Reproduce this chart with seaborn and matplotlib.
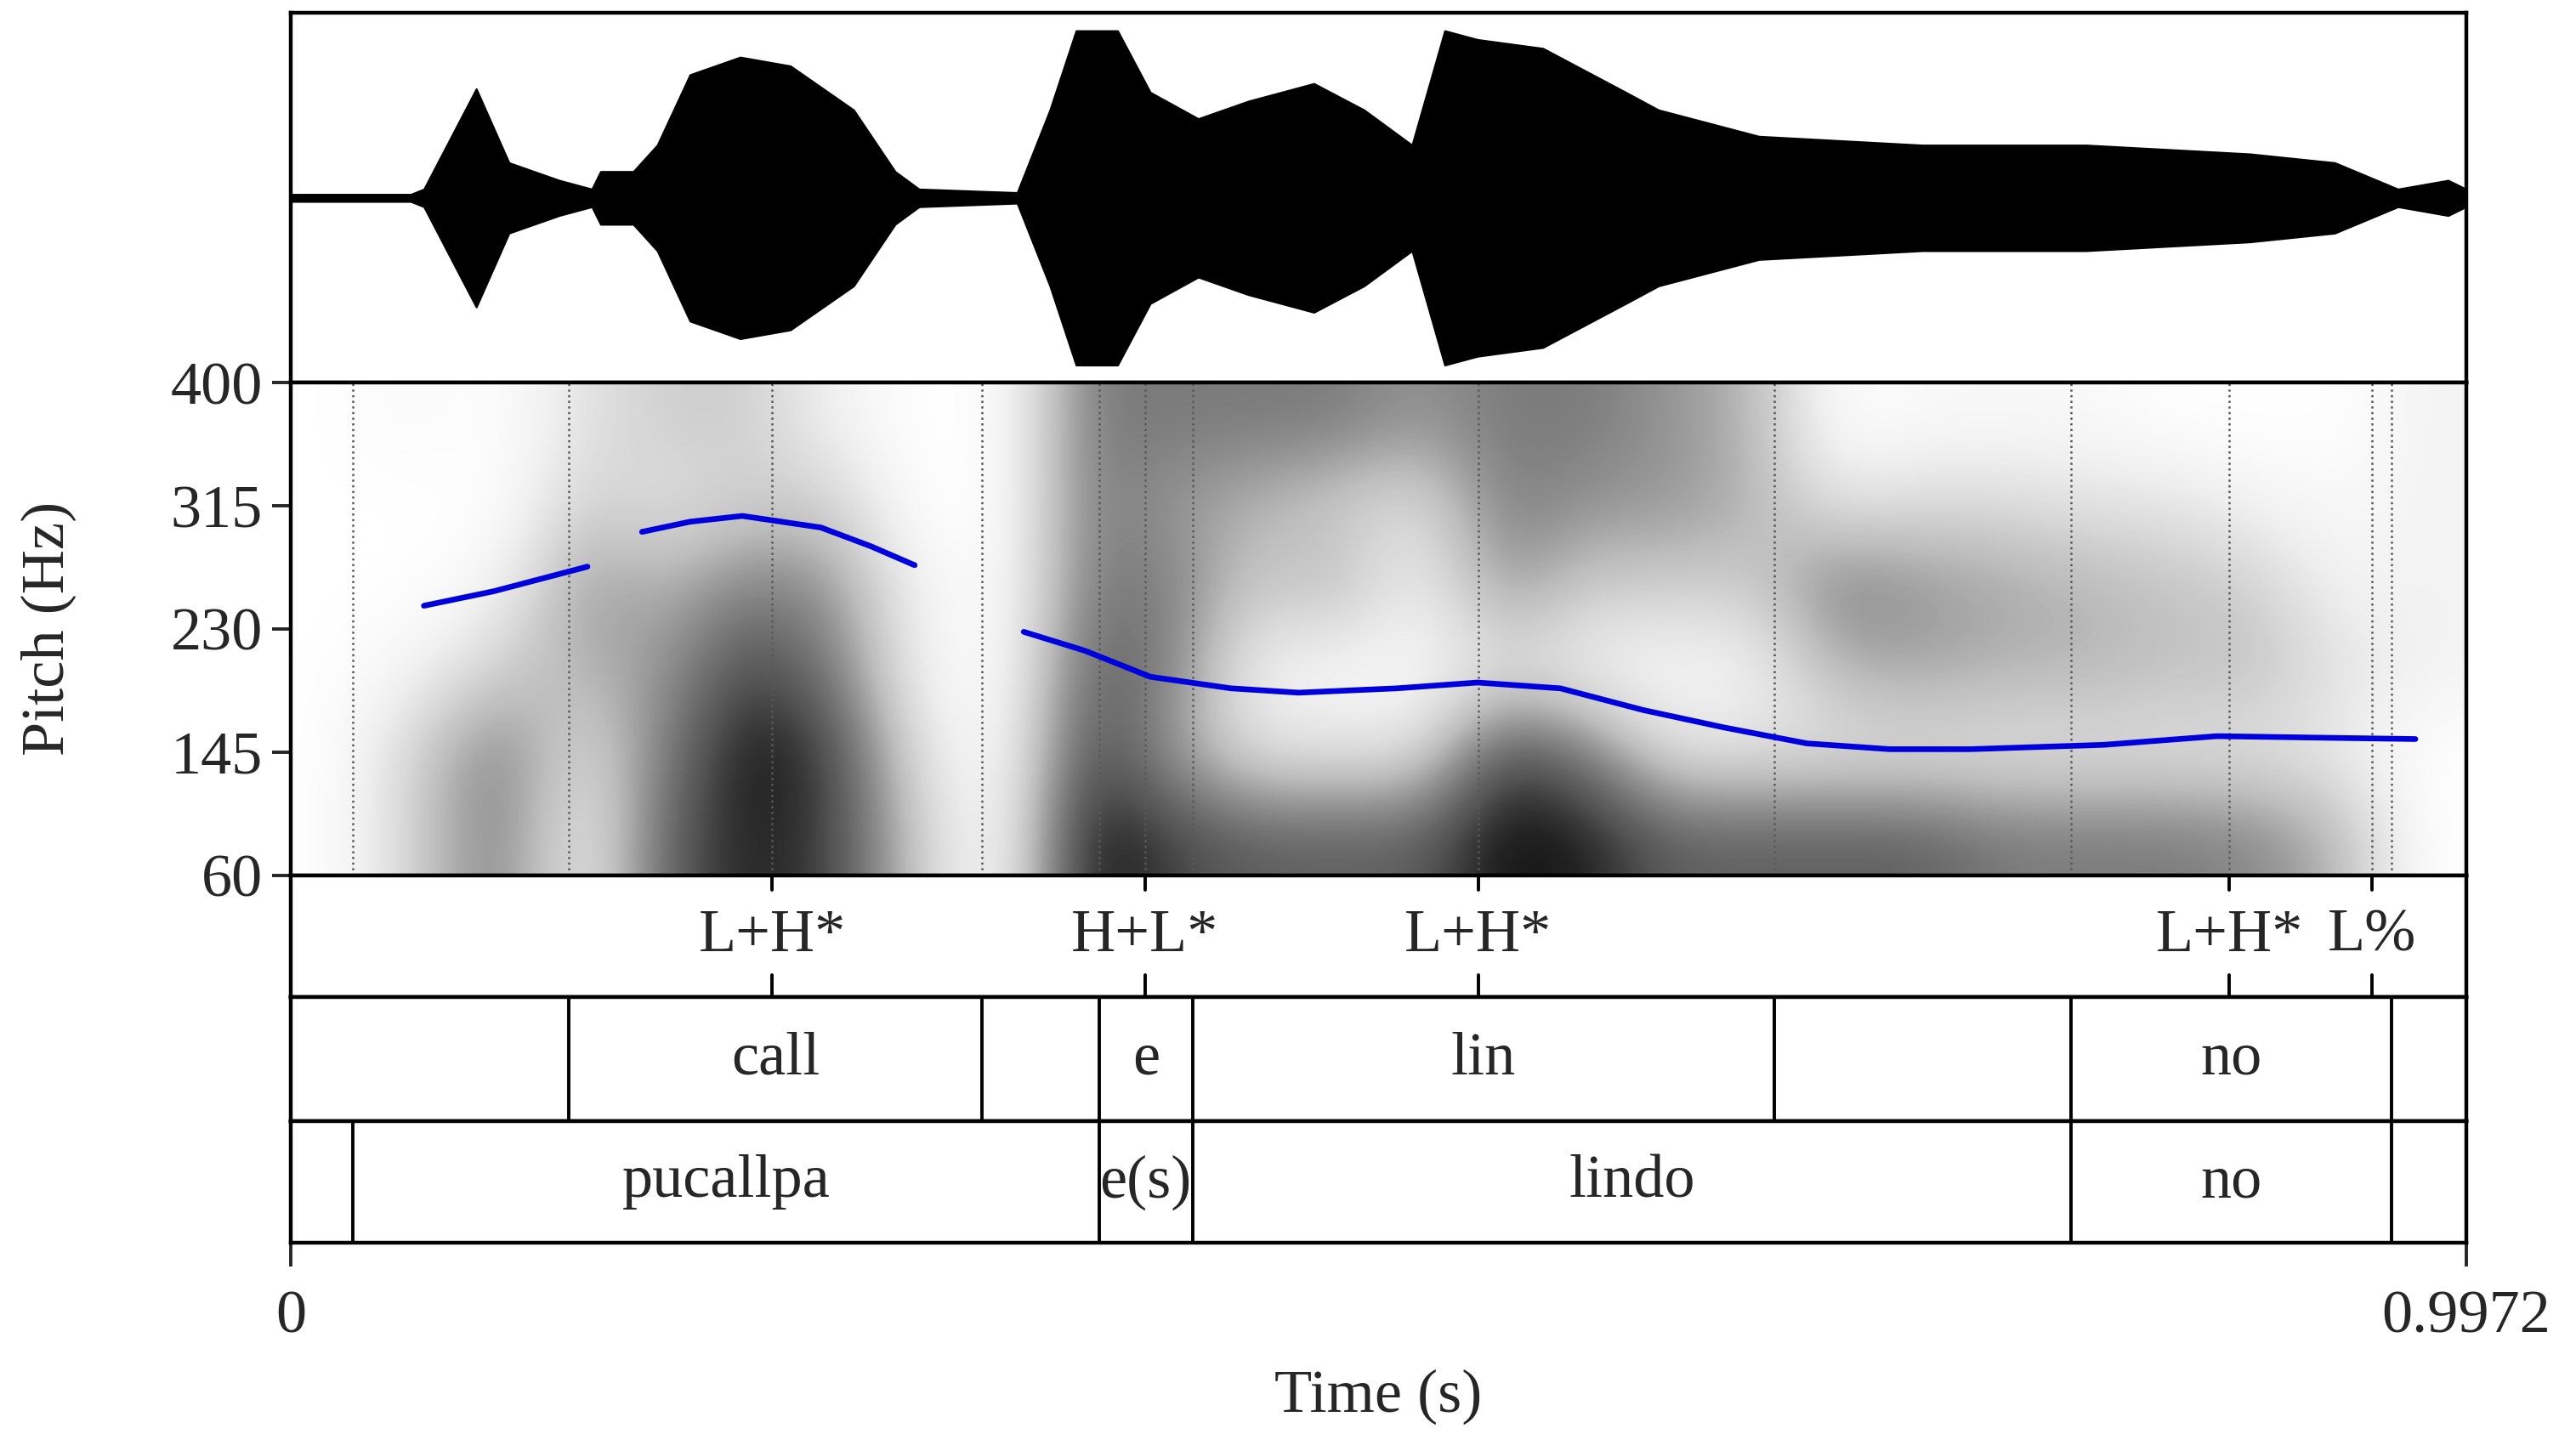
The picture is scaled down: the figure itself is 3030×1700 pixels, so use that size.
import numpy as np
import matplotlib
matplotlib.use("Agg")
import matplotlib.pyplot as plt
import seaborn as sns
import pandas as pd

sns.set_style("white")
plt.rcParams['font.family'] = ['Liberation Serif', 'DejaVu Serif']

T_END = 0.9972
# waveform envelope (time s, relative amplitude)
wave_t = [0.0, 0.055, 0.061, 0.085, 0.10, 0.123, 0.138, 0.142, 0.157, 0.168, 0.183, 0.206, 0.229, 0.258, 0.277, 0.288,
          0.333, 0.348, 0.360, 0.379, 0.394, 0.416, 0.439, 0.469, 0.492, 0.514, 0.529, 0.544, 0.574, 0.612, 0.627,
          0.673, 0.748, 0.823, 0.898, 0.937, 0.966, 0.989, T_END]
wave_a = [0.02, 0.02, 0.05, 0.62, 0.2, 0.1, 0.05, 0.15, 0.15, 0.3, 0.7, 0.8, 0.75, 0.5, 0.15, 0.05,
          0.03, 0.5, 0.95, 0.95, 0.6, 0.45, 0.55, 0.65, 0.5, 0.3, 0.95, 0.9, 0.85, 0.6, 0.5,
          0.35, 0.3, 0.3, 0.25, 0.2, 0.05, 0.1, 0.05]

# spectrogram darkness (rows bottom->top, 26 time columns)
spec = np.array([
    [0, .3, .6, .1, .7, .9, .8, .3, 0, .95, .8, .7, .7, .7, .95, .9, .7, .7, .7, .7, .6, .6, .6, .55, .4, 0],
    [0, .3, .6, .2, .6, .95, .8, .2, 0, .8, .5, .2, .2, .2, .8, .6, .2, .2, .2, .2, .2, .2, .2, .2, .15, 0],
    [0, .1, .3, .4, .5, .8, .6, .1, 0, .7, .6, .1, .05, .05, .2, .1, .05, .1, .4, .45, .4, .4, .35, .35, .2, .1],
    [0, 0, .1, .5, .4, .6, .5, .1, 0, .6, .6, .3, .4, .1, .5, .3, .3, .3, .6, .5, .45, .4, .35, .3, .1, .1],
    [0, 0, 0, .3, .2, .3, .3, 0, 0, .6, .5, .4, .3, .2, .6, .5, .5, .4, .2, .25, .25, .2, .2, .1, .05, .1],
    [0, .05, 0, .2, .3, .3, .1, 0, 0, .6, .6, .6, .6, .5, .6, .6, .5, .4, 0, .05, .05, .05, 0, 0, 0, .1],
])

# pitch contour segments
pitch_seg = [1, 1, 1, 2, 2, 2, 2, 2, 2,
             3, 3, 3, 3, 3, 3, 3, 3, 3, 3, 3, 3, 3, 3, 3, 3, 3]
pitch_t = [0.061, 0.093, 0.136, 0.161, 0.183, 0.207, 0.243, 0.266, 0.286,
           0.336, 0.364, 0.394, 0.431, 0.462, 0.507, 0.544, 0.582, 0.620, 0.657, 0.695, 0.733, 0.770, 0.831, 0.883, 0.928, 0.974]
pitch_hz = [246, 256, 273, 297, 304, 308, 300, 287, 274,
            228, 215, 197, 189, 186, 189, 193, 189, 174, 162, 151, 147, 147, 150, 156, 155, 154]

tone_t = [0.2206, 0.3916, 0.5444, 0.8887, 0.954]
tone_lab = ["L+H*", "H+L*", "L+H*", "L+H*", "L%"]
syl_b = [0.1273, 0.3170, 0.3705, 0.4134, 0.6800, 0.8163, 0.9632]
syl_lab = ["", "call", "", "e", "lin", "", "no", ""]
word_b = [0.0286, 0.3705, 0.4134, 0.8163, 0.9632]
word_lab = ["", "pucallpa", "e(s)", "lindo", "no", ""]

FS = 26
fig = plt.figure(figsize=(15.15, 8.5), dpi=200)
L, W = 0.1129, 0.8444
ys = [0.9909, 0.7352, 0.3943, 0.3102, 0.2239, 0.1398]
axs = [fig.add_axes([L, ys[i + 1], W, ys[i] - ys[i + 1]]) for i in range(5)]
for ax in axs:
    ax.set_xlim(0, T_END)
    for s in ax.spines.values():
        s.set_linewidth(1.6); s.set_color('black')
    ax.set_xticks([]); ax.set_yticks([])

# waveform
aw = axs[0]
wa = np.array(wave_a)
aw.fill_between(wave_t, -wa, wa, color='black', lw=0.8)
aw.set_ylim(-1.05, 1.05)

# spectrogram + pitch
asp = axs[1]
asp.imshow(spec, origin='lower', aspect='auto', cmap='Greys', vmin=0, vmax=1,
           extent=[0, T_END, 60, 400], interpolation='bicubic')
for t in sorted(set(syl_b + word_b + tone_t)):
    asp.axvline(t, color='0.35', ls=':', lw=0.9)
df = pd.DataFrame({'t': pitch_t, 'hz': pitch_hz, 'seg': pitch_seg})
for sg, d in df.groupby('seg'):
    sns.lineplot(data=d, x='t', y='hz', ax=asp, color='#0000dd', lw=2.4, legend=False)
asp.set_ylim(60, 400)
asp.set_yticks([60, 145, 230, 315, 400])
asp.set_yticklabels(['60', '145', '230', '315', '400'], fontsize=FS)
asp.tick_params(axis='y', length=8, width=1.4, pad=4, left=True)
asp.set_ylabel('')
asp.set_xlabel('')
fig.text(0.019, (ys[1] + ys[2]) / 2, 'Pitch (Hz)', rotation=90, ha='center', va='center', fontsize=FS)

# tone tier
at = axs[2]
at.set_ylim(0, 1)
for t, lab in zip(tone_t, tone_lab):
    at.plot([t, t], [0, 0.18], color='black', lw=1.4)
    at.plot([t, t], [0.88, 1], color='black', lw=1.4)
    at.text(t, 0.5, lab, ha='center', va='center', fontsize=FS)

def tier(ax, bounds, labs):
    ax.set_ylim(0, 1)
    edges = [0] + bounds + [T_END]
    for b in bounds:
        ax.axvline(b, color='black', lw=1.4)
    for i, lab in enumerate(labs):
        if lab:
            ax.text((edges[i] + edges[i + 1]) / 2, 0.5, lab, ha='center', va='center', fontsize=FS)

tier(axs[3], syl_b, syl_lab)
tier(axs[4], word_b, word_lab)
ab = axs[4]
ab.set_xticks([0, T_END])
ab.set_xticklabels(['0', '0.9972'], fontsize=FS)
ab.tick_params(axis='x', length=10, width=1.4, pad=10, bottom=True)
ab.set_xlabel('Time (s)', fontsize=FS, labelpad=10)

fig.savefig('out.png', dpi=200, facecolor='white')
